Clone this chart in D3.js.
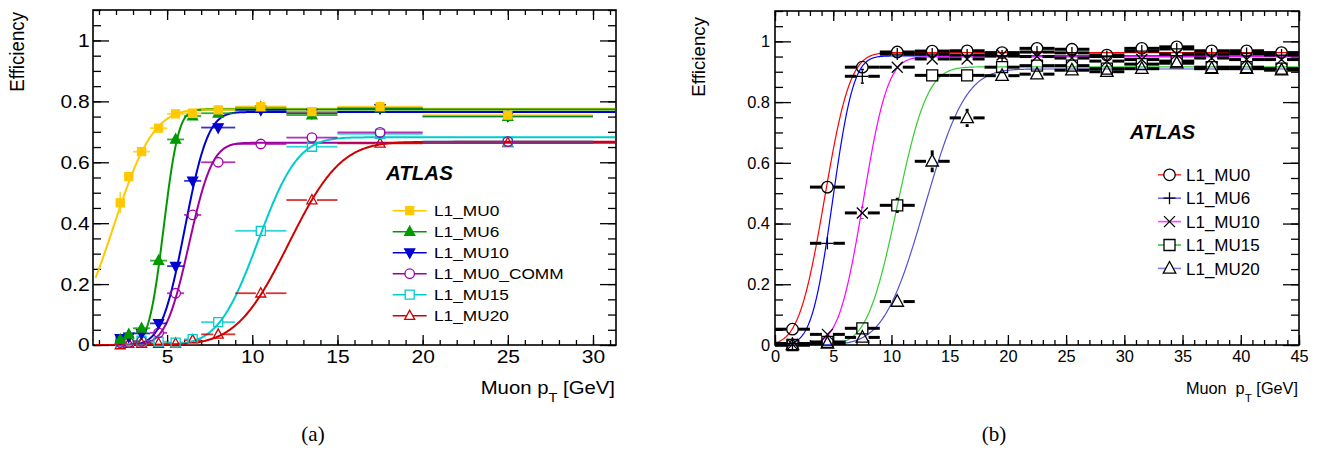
<!DOCTYPE html>
<html><head><meta charset="utf-8">
<script src="https://cdn.jsdelivr.net/npm/d3@7"></script>
<style>body{margin:0;background:#fff}svg{display:block}</style>
</head><body>
<svg id="c" width="1320" height="453"></svg>
<script>
// ---------------- Panel (a) data ----------------
const binLoA = [2, 2.5, 3, 4, 5, 6, 7, 9, 12, 15, 20];
const binHiA = [2.5, 3, 4, 5, 6, 7, 9, 12, 15, 20, 30];
const seriesA = ["L1_MU0", "L1_MU6", "L1_MU10", "L1_MU0_COMM", "L1_MU15", "L1_MU20"];
const effA_MU0  = [0.467, 0.553, 0.635, 0.712, 0.759, 0.761, 0.772, 0.783, 0.766, 0.783, 0.755];
const effA_MU6  = [0.018, 0.035, 0.055, 0.277, 0.675, 0.752, 0.761, 0.780, 0.755, 0.778, 0.750];
const effA_MU10 = [0.022, 0.027, 0.038, 0.071, 0.259, 0.539, 0.714, 0.772, 0.761, 0.777, 0.752];
const effA_COMM = [0.008, 0.008, 0.012, 0.040, 0.170, 0.427, 0.600, 0.660, 0.681, 0.698, 0.668];
const effA_MU15 = [0.011, 0.014, 0.014, 0.011, 0.008, 0.019, 0.075, 0.375, 0.651, 0.693, 0.668];
const effA_MU20 = [0.000, 0.005, 0.005, 0.005, 0.005, 0.016, 0.035, 0.170, 0.476, 0.662, 0.664];
const errA_MU0  = [0.035, 0.015, 0.010, 0.010, 0.008, 0.006, 0.008, 0.008, 0.010, 0.012, 0.015];
const errA_MU6  = [0.006, 0.008, 0.010, 0.012, 0.012, 0.008, 0.008, 0.008, 0.010, 0.012, 0.015];
const errA_MU10 = [0.006, 0.008, 0.008, 0.010, 0.012, 0.012, 0.010, 0.010, 0.012, 0.012, 0.020];
const errA_COMM = [0.004, 0.004, 0.005, 0.008, 0.012, 0.012, 0.010, 0.010, 0.012, 0.012, 0.015];
const errA_MU15 = [0.004, 0.004, 0.004, 0.004, 0.004, 0.005, 0.008, 0.012, 0.012, 0.012, 0.012];
const errA_MU20 = [0.003, 0.003, 0.003, 0.003, 0.003, 0.004, 0.006, 0.012, 0.012, 0.012, 0.015];
const fitPlateauA = [0.776, 0.773, 0.765, 0.664, 0.682, 0.667];
const fitMidA     = [1.85, 4.80, 6.04, 6.29, 10.34, 12.14];
const fitWidthA   = [2.6, 0.97, 1.52, 1.52, 2.6, 3.4];
const colorsA = ["#ffc800", "#009a00", "#0000d0", "#a000a0", "#00cccc", "#d00000"];
const markersA = ["square-f", "tri-up-f", "tri-down-f", "circle", "square", "tri-up"];

// ---------------- Panel (b) data ----------------
const binCenterB = [1.5, 4.5, 7.5, 10.5, 13.5, 16.5, 19.5, 22.5, 25.5, 28.5, 31.5, 34.5, 37.5, 40.5, 43.5];
const binHalfB   = [1.5, 1.5, 1.5, 1.5, 1.5, 1.5, 1.5, 1.5, 1.5, 1.5, 1.5, 1.5, 1.5, 1.5, 1.5];
const seriesB = ["L1_MU0", "L1_MU6", "L1_MU10", "L1_MU15", "L1_MU20"];
const effB_MU0  = [0.052, 0.520, 0.915, 0.965, 0.968, 0.969, 0.963, 0.977, 0.974, 0.955, 0.977, 0.982, 0.969, 0.969, 0.963];
const effB_MU6  = [0.005, 0.335, 0.885, 0.958, 0.958, 0.955, 0.952, 0.965, 0.962, 0.950, 0.968, 0.975, 0.958, 0.960, 0.955];
const effB_MU10 = [0.002, 0.035, 0.435, 0.915, 0.942, 0.942, 0.955, 0.950, 0.945, 0.935, 0.940, 0.958, 0.945, 0.940, 0.940];
const effB_MU15 = [0.000, 0.010, 0.055, 0.460, 0.888, 0.888, 0.915, 0.920, 0.920, 0.910, 0.925, 0.935, 0.915, 0.915, 0.910];
const effB_MU20 = [0.000, 0.005, 0.025, 0.143, 0.605, 0.748, 0.887, 0.892, 0.905, 0.900, 0.910, 0.928, 0.910, 0.910, 0.905];
const errB_MU0  = [0.010, 0.020, 0.015, 0.010, 0.010, 0.010, 0.012, 0.012, 0.012, 0.012, 0.012, 0.012, 0.012, 0.012, 0.012];
const errB_MU6  = [0.004, 0.020, 0.025, 0.012, 0.012, 0.012, 0.012, 0.012, 0.012, 0.012, 0.012, 0.012, 0.012, 0.012, 0.012];
const errB_MU10 = [0.003, 0.008, 0.020, 0.015, 0.012, 0.012, 0.012, 0.012, 0.012, 0.012, 0.012, 0.012, 0.012, 0.012, 0.012];
const errB_MU15 = [0.002, 0.005, 0.010, 0.025, 0.018, 0.015, 0.014, 0.014, 0.014, 0.014, 0.014, 0.014, 0.014, 0.014, 0.014];
const errB_MU20 = [0.002, 0.004, 0.008, 0.020, 0.036, 0.030, 0.020, 0.016, 0.016, 0.016, 0.016, 0.016, 0.016, 0.016, 0.016];
const fitPlateauB = [0.963, 0.952, 0.949, 0.916, 0.909];
const fitMidB     = [4.25, 4.95, 7.58, 10.5, 12.85];
const fitWidthB   = [2.45, 2.0, 2.35, 2.88, 3.9];
const curveColorsB  = ["#ff0000", "#0000ff", "#ff00ff", "#33cc33", "#5050d8"];
const legendColorsB = ["#ff4040", "#6a6aff", "#ff40ff", "#40c040", "#8080e0"];
const markersB = ["circle", "plus", "x", "square", "tri-up"];

// ---------------- Tick values ----------------
const yMajor = [0, 0.2, 0.4, 0.6, 0.8, 1];
const yMinor = d3.range(0, 1.1001, 0.05).map(v => +v.toFixed(2));
const xMajorA = [5, 10, 15, 20, 25, 30];
const xMinorA = d3.range(1, 32, 1);
const xMajorB = [0, 5, 10, 15, 20, 25, 30, 35, 40, 45];
const xMinorB = d3.range(0, 46, 1);

const FONT = "'Liberation Sans', Arial, Helvetica, sans-serif";
const svg = d3.select("#c");

function erf(x) {
  const s = Math.sign(x); x = Math.abs(x);
  const t = 1 / (1 + 0.3275911 * x);
  const y = 1 - (((((1.061405429 * t - 1.453152027) * t) + 1.421413741) * t - 0.284496736) * t + 0.254829592) * t * Math.exp(-x * x);
  return s * y;
}

function markerPath(type, s) {
  const h = s / 2;
  switch (type.replace("-f", "")) {
    case "circle": return `M${-h},0a${h},${h} 0 1,0 ${2*h},0a${h},${h} 0 1,0 ${-2*h},0Z`;
    case "square": return `M${-h},${-h}h${2*h}v${2*h}h${-2*h}Z`;
    case "tri-up": return `M0,${-h*1.1}L${h},${h*0.75}L${-h},${h*0.75}Z`;
    case "tri-down": return `M0,${h*1.1}L${h},${-h*0.75}L${-h},${-h*0.75}Z`;
    case "plus": return `M${-h},0H${h}M0,${-h}V${h}`;
    case "x": return `M${-h},${-h}L${h},${h}M${-h},${h}L${h},${-h}`;
  }
}

function drawAxes(cfg, x, y) {
  const g = svg.append("g");
  const sx = cfg.stretch;
  const styleAxis = (sel, labels) => {
    sel.select(".domain").remove();
    sel.selectAll("line").attr("stroke", "#000").attr("stroke-width", 1.3);
    if (labels) {
      sel.selectAll("text").attr("fill", "#000").attr("font-size", cfg.tickFont)
        .attr("font-family", FONT).attr("transform", `scale(${sx},1)`);
    } else sel.selectAll("text").remove();
  };
  const fmt = d => String(+(+d).toFixed(1));
  g.append("g").attr("transform", `translate(0,${cfg.bottom})`)
    .call(d3.axisBottom(x).tickValues(cfg.xMinor).tickSizeInner(-5).tickSizeOuter(0).tickFormat(""))
    .call(s => styleAxis(s, false));
  g.append("g").attr("transform", `translate(0,${cfg.bottom})`)
    .call(d3.axisBottom(x).tickValues(cfg.xMajor).tickSizeInner(-10).tickSizeOuter(0).tickPadding(cfg.xPad).tickFormat(fmt))
    .call(s => styleAxis(s, true));
  g.append("g").attr("transform", `translate(0,${cfg.top})`)
    .call(d3.axisTop(x).tickValues(cfg.xMinor).tickSizeInner(-5).tickSizeOuter(0))
    .call(s => styleAxis(s, false));
  g.append("g").attr("transform", `translate(0,${cfg.top})`)
    .call(d3.axisTop(x).tickValues(cfg.xMajor).tickSizeInner(-10).tickSizeOuter(0))
    .call(s => styleAxis(s, false));
  g.append("g").attr("transform", `translate(${cfg.left},0)`)
    .call(d3.axisLeft(y).tickValues(yMinor).tickSizeInner(-8).tickSizeOuter(0))
    .call(s => styleAxis(s, false));
  g.append("g").attr("transform", `translate(${cfg.left},0)`)
    .call(d3.axisLeft(y).tickValues(yMajor).tickSizeInner(-16).tickSizeOuter(0).tickPadding(cfg.yPad).tickFormat(fmt))
    .call(s => styleAxis(s, true));
  g.append("g").attr("transform", `translate(${cfg.right},0)`)
    .call(d3.axisRight(y).tickValues(yMinor).tickSizeInner(-8).tickSizeOuter(0))
    .call(s => styleAxis(s, false));
  g.append("g").attr("transform", `translate(${cfg.right},0)`)
    .call(d3.axisRight(y).tickValues(yMajor).tickSizeInner(-16).tickSizeOuter(0))
    .call(s => styleAxis(s, false));
  g.append("rect").attr("x", cfg.left).attr("y", cfg.top)
    .attr("width", cfg.right - cfg.left).attr("height", cfg.bottom - cfg.top)
    .attr("fill", "none").attr("stroke", "#000").attr("stroke-width", 1.6);
  g.append("text").attr("transform", `translate(${cfg.yTitleX},${cfg.yTitleY}) scale(${sx},1) rotate(-90)`)
    .attr("text-anchor", "end").attr("font-family", FONT).attr("font-size", cfg.yTitleFont)
    .text("Efficiency");
  const t = g.append("text").attr("transform", `translate(${cfg.right - 1},394) scale(${sx},1)`)
    .attr("text-anchor", "end").attr("font-family", FONT).attr("font-size", cfg.xTitleFont);
  t.append("tspan").text("Muon");
  t.append("tspan").attr("dx", cfg.pGap).text("p");
  t.append("tspan").attr("dy", 8).attr("font-size", cfg.xTitleFont * 0.72).text("T");
  t.append("tspan").attr("dy", -8).text("\u00a0[GeV]");
}

function drawCurves(cfg, x, y, plateau, mid, width, colors, lw, x0, x1) {
  const id = "clip" + cfg.name;
  svg.append("clipPath").attr("id", id).append("rect")
    .attr("x", cfg.left).attr("y", cfg.top).attr("width", cfg.right - cfg.left).attr("height", cfg.bottom - cfg.top);
  const g = svg.append("g").attr("clip-path", `url(#${id})`);
  const xs = d3.range(x0, x1 + 0.001, 0.05);
  const line = d3.line().x(d => x(d[0])).y(d => y(d[1]));
  plateau.forEach((p, i) => {
    const pts = xs.map(v => [v, p / 2 * (1 + erf((v - mid[i]) / width[i]))]);
    g.append("path").attr("d", line(pts)).attr("fill", "none")
      .attr("stroke", colors[i]).attr("stroke-width", lw);
  });
}

function drawPoints(x, y, xs, xlo, xhi, vals, errs, marker, size, color, fillColor, barW, barOpacity) {
  const g = svg.append("g");
  const open = !marker.endsWith("-f");
  const gap = (open ? size / 2 : 0);
  vals.forEach((v, i) => {
    const cx = x(xs[i]), cy = y(v);
    const xl = x(xlo[i]), xr = x(xhi[i]);
    const yt = y(v + errs[i]), yb = y(Math.max(0, v - errs[i]));
    const segs = [];
    if (cx - gap > xl) segs.push([xl, cy, cx - gap, cy]);
    if (xr > cx + gap) segs.push([cx + gap, cy, xr, cy]);
    if (cy - gap > yt) segs.push([cx, yt, cx, cy - gap]);
    if (yb > cy + gap) segs.push([cx, cy + gap, cx, yb]);
    segs.forEach(s => g.append("line").attr("x1", s[0]).attr("y1", s[1]).attr("x2", s[2]).attr("y2", s[3])
      .attr("stroke", color).attr("stroke-width", barW).attr("stroke-opacity", barOpacity));
    g.append("path").attr("transform", `translate(${cx},${cy})`).attr("d", markerPath(marker, size))
      .attr("fill", open ? "none" : fillColor).attr("stroke", color).attr("stroke-width", 1.3);
  });
}

// ================= Panel (a) =================
const cfgA = { name: "A", left: 93, top: 10, right: 616, bottom: 345, stretch: 1.13,
  xMajor: xMajorA, xMinor: xMinorA, tickFont: 18.6, xPad: 5, yPad: 3,
  yTitleX: 24, yTitleY: 12, yTitleFont: 18.7, xTitleFont: 18, pGap: 5 };
const xA = d3.scaleLinear().domain([0.65, 31.35]).range([cfgA.left, cfgA.right]);
const yA = d3.scaleLinear().domain([0, 1.1]).range([cfgA.bottom, cfgA.top]);
drawAxes(cfgA, xA, yA);
drawCurves(cfgA, xA, yA, fitPlateauA, fitMidA, fitWidthA, colorsA, 2, 0.8, 31.3);
const centersA = binLoA.map((lo, i) => (lo + binHiA[i]) / 2);
const effA = [effA_MU0, effA_MU6, effA_MU10, effA_COMM, effA_MU15, effA_MU20];
const errA = [errA_MU0, errA_MU6, errA_MU10, errA_COMM, errA_MU15, errA_MU20];
const sizeA = [8, 10, 10, 9.5, 9, 10];
[5, 4, 3, 2, 1, 0].forEach(i => {
  drawPoints(xA, yA, centersA, binLoA, binHiA, effA[i], errA[i], markersA[i], sizeA[i], colorsA[i], colorsA[i], 1.8, 0.8);
});
const legA = svg.append("g");
seriesA.forEach((name, i) => {
  const yy = 210.7 + i * 21;
  legA.append("line").attr("x1", 392.7).attr("x2", 426.7).attr("y1", yy).attr("y2", yy)
    .attr("stroke", colorsA[i]).attr("stroke-width", 1.4);
  legA.append("path").attr("transform", `translate(409.7,${yy})`).attr("d", markerPath(markersA[i], sizeA[i]))
    .attr("fill", markersA[i].endsWith("-f") ? colorsA[i] : "#fff").attr("stroke", colorsA[i]).attr("stroke-width", 1.3);
  legA.append("text").attr("transform", `translate(434,${yy + 5.5}) scale(1.13,1)`)
    .attr("font-family", FONT).attr("font-size", 15.3).text(name);
});
svg.append("text").attr("x", 386).attr("y", 180).attr("font-family", FONT)
  .attr("font-weight", "bold").attr("font-style", "italic").attr("font-size", 20.5).text("ATLAS");
svg.append("text").attr("x", 313).attr("y", 441).attr("text-anchor", "middle")
  .attr("font-family", "'Liberation Serif', 'Times New Roman', serif").attr("font-size", 21).text("(a)");

// ================= Panel (b) =================
const cfgB = { name: "B", left: 775, top: 11, right: 1299, bottom: 345, stretch: 1,
  xMajor: xMajorB, xMinor: xMinorB, tickFont: 16.4, xPad: 5, yPad: 5,
  yTitleX: 705, yTitleY: 17, yTitleFont: 18.7, xTitleFont: 16.3, pGap: 9 };
const xB = d3.scaleLinear().domain([0, 45]).range([cfgB.left, cfgB.right]);
const yB = d3.scaleLinear().domain([0, 1.1]).range([cfgB.bottom, cfgB.top]);
drawAxes(cfgB, xB, yB);
drawCurves(cfgB, xB, yB, fitPlateauB, fitMidB, fitWidthB, curveColorsB, 1.2, 0, 45);
const effB = [effB_MU0, effB_MU6, effB_MU10, effB_MU15, effB_MU20];
const errB = [errB_MU0, errB_MU6, errB_MU10, errB_MU15, errB_MU20];
const loB = binCenterB.map((c, i) => c - binHalfB[i]);
const hiB = binCenterB.map((c, i) => c + binHalfB[i]);
const sizeB = [11.5, 12, 11, 11, 12.5];
[4, 3, 2, 1, 0].forEach(i => {
  drawPoints(xB, yB, binCenterB, loB, hiB, effB[i], errB[i], markersB[i], sizeB[i], "#000", "#000", 3, 1);
});
const legB = svg.append("g");
seriesB.forEach((name, i) => {
  const yy = 174.8 + i * 23.4;
  legB.append("line").attr("x1", 1158).attr("x2", 1181).attr("y1", yy).attr("y2", yy)
    .attr("stroke", legendColorsB[i]).attr("stroke-width", 1.6);
  legB.append("path").attr("transform", `translate(1169.5,${yy})`).attr("d", markerPath(markersB[i], sizeB[i]))
    .attr("fill", markersB[i] === "plus" || markersB[i] === "x" ? "none" : "#fff").attr("stroke", "#000").attr("stroke-width", 1.3);
  legB.append("text").attr("x", 1186).attr("y", yy + 6.2)
    .attr("font-family", FONT).attr("font-size", 17).text(name);
});
svg.append("text").attr("x", 1130).attr("y", 139).attr("font-family", FONT)
  .attr("font-weight", "bold").attr("font-style", "italic").attr("font-size", 20).text("ATLAS");
svg.append("text").attr("x", 994).attr("y", 441).attr("text-anchor", "middle")
  .attr("font-family", "'Liberation Serif', 'Times New Roman', serif").attr("font-size", 21).text("(b)");
</script>
</body></html>
